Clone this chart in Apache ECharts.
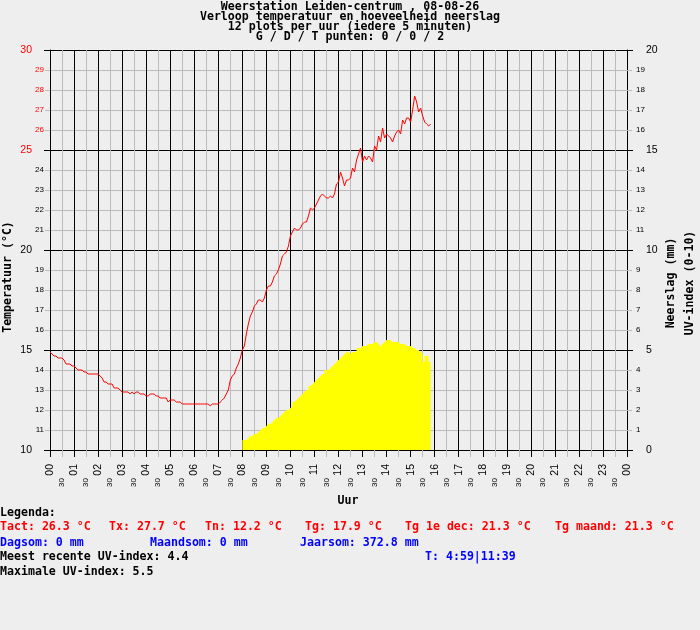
<!DOCTYPE html>
<html>
<head>
<meta charset="utf-8">
<script src="https://cdn.jsdelivr.net/npm/echarts@6/dist/echarts.min.js"></script>
<style>
html,body{margin:0;padding:0;background:#eeeeee;}
#c{width:700px;height:630px;}
</style>
</head>
<body>
<div id="c"></div>
<script>
// ---------------- DATA ----------------
const titleLines = [
  'Weerstation Leiden-centrum , 08-08-26',
  'Verloop temperatuur en hoeveelheid neerslag',
  '12 plots per uur (iedere 5 minuten)',
  'G / D / T punten: 0 / 0 / 2'
];
const hourTickLabels = ['00','01','02','03','04','05','06','07','08','09','10','11','12',
  '13','14','15','16','17','18','19','20','21','22','23','00'];
const halfHourLabel = '30';
const xAxisName = 'Uur';
const leftAxisName = 'Temperatuur (°C)';
const rightAxisNames = ['Neerslag (mm)', 'UV-index (0-10)'];

const sampleMinutes = 5;           // 12 plots per uur
const tempStartHour = 0;
const uvStartHour = 8;

// temperature (°C), one array per hour, 5-minute samples
const temp00 = [14.9,14.8,14.7,14.7,14.6,14.6,14.6,14.5,14.3,14.3,14.3,14.2];
const temp01 = [14.2,14.1,14.0,14.0,14.0,13.9,13.9,13.8,13.8,13.8,13.8,13.8];
const temp02 = [13.8,13.7,13.6,13.4,13.4,13.3,13.3,13.3,13.1,13.1,13.1,13.0];
const temp03 = [12.9,12.9,12.9,12.9,12.8,12.9,12.8,12.9,12.9,12.8,12.8,12.8];
const temp04 = [12.7,12.7,12.8,12.8,12.8,12.7,12.7,12.6,12.6,12.6,12.6,12.4];
const temp05 = [12.5,12.5,12.5,12.4,12.4,12.4,12.3,12.3,12.3,12.3,12.3,12.3];
const temp06 = [12.3,12.3,12.3,12.3,12.3,12.3,12.3,12.3,12.2,12.3,12.3,12.3];
const temp07 = [12.3,12.4,12.5,12.6,12.8,13.0,13.5,13.7,13.8,14.1,14.3,14.6];
const temp08 = [15.0,15.2,15.8,16.3,16.7,16.9,17.2,17.3,17.5,17.5,17.4,17.6];
const temp09 = [18.0,18.2,18.2,18.4,18.7,18.8,19.0,19.3,19.7,19.8,19.9,20.2];
const temp10 = [20.7,20.9,21.1,21.0,21.0,21.1,21.3,21.4,21.4,21.7,22.1,22.0];
const temp11 = [22.1,22.3,22.5,22.7,22.8,22.7,22.6,22.6,22.7,22.6,22.8,23.3];
const temp12 = [23.4,23.9,23.6,23.2,23.5,23.5,23.6,24.1,23.9,24.5,24.8,25.1];
const temp13 = [24.4,24.7,24.5,24.7,24.6,24.4,25.2,25.0,25.7,25.4,26.1,25.6];
const temp14 = [25.8,25.7,25.6,25.4,25.7,25.9,26.0,25.8,26.5,26.3,26.6,26.6];
const temp15 = [26.4,27.0,27.7,27.4,26.9,27.1,26.7,26.4,26.3,26.2,26.3];
const tempByHour = [temp00,temp01,temp02,temp03,temp04,temp05,temp06,temp07,
  temp08,temp09,temp10,temp11,temp12,temp13,temp14,temp15];

// UV-index, one array per hour from 08:00, 5-minute samples
const uv08 = [0.5,0.5,0.6,0.7,0.7,0.8,0.8,0.9,1.0,1.1,1.1,1.2];
const uv09 = [1.3,1.3,1.4,1.5,1.6,1.6,1.7,1.8,1.9,2.0,2.0,2.1];
const uv10 = [2.2,2.4,2.5,2.6,2.7,2.8,2.9,3.0,3.0,3.2,3.3,3.4];
const uv11 = [3.5,3.6,3.7,3.8,3.8,4.0,4.0,4.1,4.2,4.3,4.4,4.5];
const uv12 = [4.6,4.7,4.8,4.9,4.9,4.8,4.9,4.9,4.9,5.1,5.1,5.2];
const uv13 = [5.2,5.2,5.3,5.3,5.3,5.4,5.4,5.3,5.2,5.3,5.4,5.5];
const uv14 = [5.5,5.5,5.4,5.4,5.4,5.4,5.3,5.3,5.3,5.2,5.2,5.2];
const uv15 = [5.1,5.1,5.0,5.0,4.9,4.8,4.4,4.7,4.7,4.4];
const uvByHour = [uv08,uv09,uv10,uv11,uv12,uv13,uv14,uv15];

// legend texts
const legendTitle = 'Legenda:';
const legendTemps = ['Tact: 26.3 °C','Tx: 27.7 °C','Tn: 12.2 °C','Tg: 17.9 °C','Tg 1e dec: 21.3 °C','Tg maand: 21.3 °C'];
const legendRain = ['Dagsom: 0 mm','Maandsom: 0 mm','Jaarsom: 372.8 mm'];
const legendUvRecent = 'Meest recente UV-index: 4.4';
const legendTimes = 'T: 4:59|11:39';
const legendUvMax = 'Maximale UV-index: 5.5';

// ---------------- BUILD ----------------
const tempData = [];
tempByHour.forEach((arr, h) => arr.forEach((v, k) => {
  tempData.push([tempStartHour + h + k * sampleMinutes / 60, v]);
}));
const uvData = [];
uvByHour.forEach((arr, h) => arr.forEach((v, k) => {
  uvData.push([uvStartHour + h + k * sampleMinutes / 60, v]);
}));
// close the last 5-minute step
const lastUv = uvData[uvData.length - 1];
uvData.push([lastUv[0] + sampleMinutes / 60, lastUv[1]]);

const MONO = "'DejaVu Sans Mono','Liberation Mono',monospace";
const SANS = "'Liberation Sans',Arial,sans-serif";
const BLACK = '#000000', GREY = '#bbbbbb', RED = '#ff0000', BLUE = '#0000ff';
const monoBold = 'bold 11.6px ' + MONO;

function txt(s, x, y, color, opts) {
  opts = opts || {};
  return {
    type: 'text', x: x, y: y, rotation: opts.rotation || 0, silent: true, z: 100,
    style: {
      text: s, fill: color, font: opts.font || monoBold,
      align: opts.align || 'left', textAlign: opts.align || 'left',
      verticalAlign: 'middle', textVerticalAlign: 'middle'
    }
  };
}

const graphics = [];
const titleY = [7, 17, 27, 37];
titleLines.forEach((s, i) => graphics.push(txt(s, 350, titleY[i], BLACK, {align: 'center'})));
graphics.push(txt(xAxisName, 348, 501, BLACK, {align: 'center'}));
graphics.push(txt(leftAxisName, 8, 277, BLACK, {align: 'center', rotation: Math.PI / 2}));
graphics.push(txt(rightAxisNames[0], 671, 283, BLACK, {align: 'center', rotation: Math.PI / 2}));
graphics.push(txt(rightAxisNames[1], 690, 283, BLACK, {align: 'center', rotation: Math.PI / 2}));

const rowY = [512.5, 527, 542.5, 557, 572];
graphics.push(txt(legendTitle, 0, rowY[0], BLACK));
const tempX = [0, 109, 205, 305, 405, 555];
legendTemps.forEach((s, i) => graphics.push(txt(s, tempX[i], rowY[1], RED)));
const rainX = [0, 150, 300];
legendRain.forEach((s, i) => graphics.push(txt(s, rainX[i], rowY[2], BLUE)));
graphics.push(txt(legendUvRecent, 0, rowY[3], BLACK));
graphics.push(txt(legendTimes, 425, rowY[3], BLUE));
graphics.push(txt(legendUvMax, 0, rowY[4], BLACK));

const hotColor = v => (+v >= 25 ? RED : BLACK);

const option = {
  backgroundColor: '#eeeeee',
  animation: false,
  grid: {left: 50, right: 73, top: 50, bottom: 180, containLabel: false},
  xAxis: [
    {
      type: 'value', min: 0, max: 24, interval: 1, position: 'bottom',
      axisLine: {show: true, onZero: false, lineStyle: {color: BLACK, width: 1}},
      axisTick: {show: true, length: 7, lineStyle: {color: BLACK, width: 1}},
      minorTick: {show: true, splitNumber: 2, length: 7, lineStyle: {color: GREY, width: 1}},
      splitLine: {show: true, lineStyle: {color: BLACK, width: 1}},
      minorSplitLine: {show: true, lineStyle: {color: GREY, width: 1}},
      axisLabel: {
        rotate: 90, margin: 14, fontSize: 10.5, fontFamily: SANS, color: BLACK,
        formatter: v => hourTickLabels[Math.round(v)]
      }
    },
    {
      type: 'value', min: 0, max: 24, interval: 0.5, position: 'bottom',
      axisLine: {show: false}, axisTick: {show: false}, splitLine: {show: false},
      axisLabel: {
        rotate: 90, margin: 28, fontSize: 8, fontFamily: SANS, color: BLACK,
        formatter: v => (Math.abs(v % 1 - 0.5) < 1e-6 ? halfHourLabel : '')
      }
    }
  ],
  yAxis: [
    {
      type: 'value', min: 10, max: 30, interval: 5, position: 'left',
      axisLine: {show: true, onZero: false, lineStyle: {color: BLACK, width: 1}},
      axisTick: {show: true, length: 6, lineStyle: {color: BLACK, width: 1}},
      minorTick: {show: true, splitNumber: 5, length: 5, lineStyle: {color: GREY, width: 1}},
      splitLine: {show: true, lineStyle: {color: BLACK, width: 1}},
      minorSplitLine: {show: true, lineStyle: {color: GREY, width: 1}},
      axisLabel: {margin: 18, fontSize: 10.5, fontFamily: SANS, color: hotColor}
    },
    {
      type: 'value', min: 0, max: 20, interval: 5, position: 'right',
      axisLine: {show: true, onZero: false, lineStyle: {color: BLACK, width: 1}},
      axisTick: {show: true, length: 6, lineStyle: {color: BLACK, width: 1}},
      minorTick: {show: true, splitNumber: 5, length: 5, lineStyle: {color: GREY, width: 1}},
      splitLine: {show: false},
      axisLabel: {margin: 19, fontSize: 10.5, fontFamily: SANS, color: BLACK}
    },
    {
      type: 'value', min: 10, max: 30, interval: 1, position: 'left',
      axisLine: {show: false}, axisTick: {show: false}, splitLine: {show: false},
      axisLabel: {
        margin: 6, fontSize: 8, fontFamily: SANS, color: hotColor,
        formatter: v => (v % 5 === 0 ? '' : String(v))
      }
    },
    {
      type: 'value', min: 0, max: 20, interval: 1, position: 'right',
      axisLine: {show: false}, axisTick: {show: false}, splitLine: {show: false},
      axisLabel: {
        margin: 9, fontSize: 8, fontFamily: SANS, color: BLACK,
        formatter: v => (v % 5 === 0 ? '' : String(v))
      }
    }
  ],
  series: [
    {
      name: 'UV-index', type: 'line', xAxisIndex: 0, yAxisIndex: 1,
      data: uvData, step: 'end', showSymbol: false, silent: true,
      lineStyle: {width: 0, color: '#ffff00'},
      itemStyle: {color: '#ffff00'},
      areaStyle: {color: '#ffff00', opacity: 1},
      z: 2
    },
    {
      name: 'Temperatuur', type: 'line', xAxisIndex: 0, yAxisIndex: 0,
      data: tempData, showSymbol: false, silent: true,
      lineStyle: {width: 1, color: RED},
      itemStyle: {color: RED},
      z: 3
    }
  ],
  graphic: graphics
};

const chart = echarts.init(document.getElementById('c'), null, {renderer: 'canvas'});
chart.setOption(option);
</script>
</body>
</html>
